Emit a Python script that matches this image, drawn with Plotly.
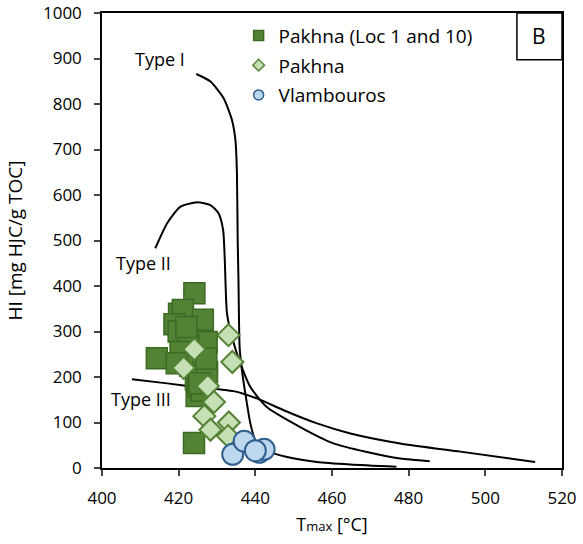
import plotly.graph_objects as go

# ---------------- data ----------------
sq_x = [424.1, 420.1, 421.1, 426.3, 418.9, 427.3, 414.3, 421.0, 424.7, 425.6, 424.0,
        420.0, 422.5, 423.5, 425.5, 420.5, 423.0, 426.5, 424.5, 422.0, 419.5, 425.0,
        426.0, 427.4, 427.2, 425.4]
sq_y = [384, 339, 347, 326, 316, 277, 241, 290, 158, 200, 55,
        300, 270, 245, 235, 255, 225, 215, 195, 310, 230, 180,
        170, 211, 240, 186]

di_x = [424.1, 421.3, 433.0, 434.0, 427.6, 429.2, 426.7, 428.3, 433.1, 432.9]
di_y = [261, 220, 292, 233, 180, 145, 114, 84, 100, 70]

ci_x = [434.1, 437.1, 441.0, 442.3, 440.0]
ci_y = [30, 59, 34.5, 41, 38]

t1_x = [424.6, 428.3, 431.7, 433.9, 434.8, 435.2, 435.4, 435.6, 435.9, 436.5, 437.8,
        438.7, 440.0, 443.0, 448.3, 456.1, 464.8, 476.8]
t1_y = [866, 849.5, 813, 765, 721, 648, 500, 413, 266, 215, 142, 98, 61, 39, 24, 13, 7.5, 2.5]

t2_x = [413.9, 417.0, 420.4, 424.8, 428.3, 430.4, 431.6, 432.0, 432.2, 432.6, 433.9,
        436.1, 438.7, 443.0, 451.7, 460.4, 469.1, 477.8, 485.5]
t2_y = [483, 538, 574, 584, 578, 560, 523, 464, 413, 340, 288, 230, 178, 134, 90, 54,
        35, 20.7, 14.7]

t3_x = [407.8, 417.0, 425.6, 434.3, 440.4, 447.4, 456.1, 464.8, 477.8, 493.5, 513.0]
t3_y = [195, 186, 177, 169, 153, 127, 98, 76, 54, 36, 13.2]

curve_labels = ["Type I", "Type II", "Type III"]
label_x = [415.2, 410.9, 410.2]
label_y = [899, 451, 151]

series_names = ["Pakhna (Loc 1 and 10)", "Pakhna", "Vlambouros"]
x_ticks = [400, 420, 440, 460, 480, 500, 520]
y_ticks = [0, 100, 200, 300, 400, 500, 600, 700, 800, 900, 1000]

FONT = "Open Sans"
SQ_FILL, SQ_LINE = "#548235", "#3b6a22"
DI_FILL, DI_LINE = "#c5e0b4", "#548235"
CI_FILL, CI_LINE = "#bdd7ee", "#2e5f8f"

fig = go.Figure()

for cx, cy in [(t1_x, t1_y), (t2_x, t2_y), (t3_x, t3_y)]:
    fig.add_trace(go.Scatter(x=cx, y=cy, mode="lines",
                             line=dict(color="black", width=2, shape="spline", smoothing=0.6),
                             showlegend=False, hoverinfo="skip"))

fig.add_trace(go.Scatter(x=sq_x, y=sq_y, mode="markers", showlegend=False,
                         marker=dict(symbol="square", size=21, color=SQ_FILL, line=dict(color=SQ_LINE, width=1.5))))
fig.add_trace(go.Scatter(x=di_x, y=di_y, mode="markers", showlegend=False,
                         marker=dict(symbol="diamond", size=17, color=DI_FILL, line=dict(color=DI_LINE, width=2))))
fig.add_trace(go.Scatter(x=ci_x, y=ci_y, mode="markers", showlegend=False,
                         marker=dict(symbol="circle", size=21, color=CI_FILL, line=dict(color=CI_LINE, width=2))))

# legend entries
leg_styles = [("square", SQ_FILL, SQ_LINE, 10), ("diamond", DI_FILL, DI_LINE, 9), ("circle", CI_FILL, CI_LINE, 10)]
for i, (name, (sym, fc, lc, sz)) in enumerate(zip(series_names, leg_styles)):
    fig.add_trace(go.Scatter(x=[None], y=[None], mode="markers", name=name, legendgroup=f"g{i}",
                             marker=dict(symbol=sym, size=sz, color=fc, line=dict(color=lc, width=1.5))))

for t, lx, ly in zip(curve_labels, label_x, label_y):
    fig.add_annotation(x=lx, y=ly, text=t, showarrow=False, xanchor="center", yanchor="middle",
                       font=dict(family=FONT, size=18, color="black"))

fig.add_shape(type="rect", xref="paper", yref="paper", x0=0.902, x1=1.0, y0=0.897, y1=1.0,
              line=dict(color="black", width=1.5), fillcolor="white")
fig.add_annotation(xref="paper", yref="paper", x=0.951, y=0.9485, text="B", showarrow=False,
                   xanchor="center", yanchor="middle", font=dict(family=FONT, size=21, color="black"))

fig.update_layout(
    width=583, height=544,
    margin=dict(l=102, r=21, t=13, b=76, autoexpand=False),
    paper_bgcolor="white", plot_bgcolor="white",
    font=dict(family=FONT, size=17, color="black"),
    legend=dict(x=0.297, y=0.992, xanchor="left", yanchor="top", bgcolor="rgba(0,0,0,0)",
                font=dict(family=FONT, size=19), tracegroupgap=2),
    xaxis=dict(range=[400, 520], tickvals=x_ticks, ticks="outside", ticklen=6, tickwidth=1.5,
               showline=True, linecolor="black", linewidth=1.5, mirror=True, showgrid=False, zeroline=False,
               title=dict(text="T<span style='font-size:13px'>max</span> [°C]", standoff=10,
                          font=dict(size=18)),
               ticklabelstandoff=8, automargin=False, ticklabeloverflow="allow"),
    yaxis=dict(range=[0, 1000], tickvals=y_ticks, ticks="outside", ticklen=6, tickwidth=1.5,
               showline=True, linecolor="black", linewidth=1.5, mirror=True, showgrid=False, zeroline=False,
               title=dict(text="HI [mg HJC/g TOC]", standoff=15, font=dict(size=19)),
               ticklabelstandoff=9, automargin=False, ticklabeloverflow="allow"),
)

fig.write_html("out.html", config={"displayModeBar": False},
               post_script="document.body.style.margin='0';")
